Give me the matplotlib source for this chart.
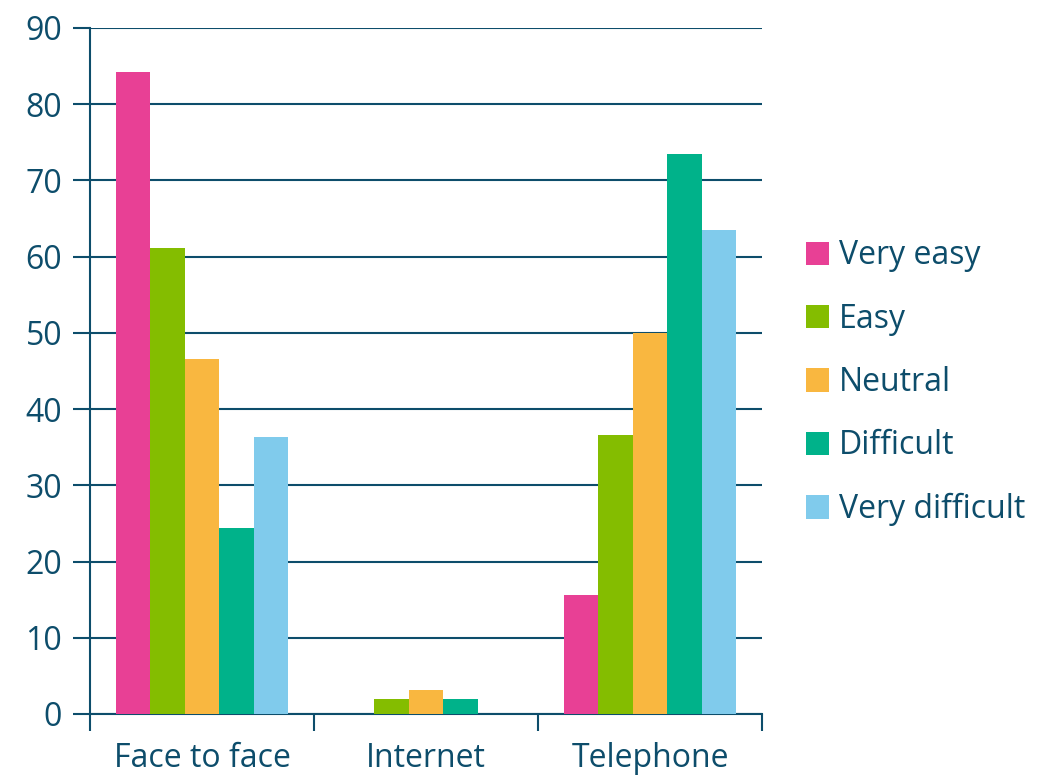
import matplotlib
matplotlib.use("Agg")
import matplotlib.pyplot as plt
import numpy as np

categories = ['Face to face', 'Internet', 'Telephone']
series = ['Very easy', 'Easy', 'Neutral', 'Difficult', 'Very difficult']
very_easy = [84.2, 0, 15.6]
easy = [61.1, 2.0, 36.6]
neutral = [46.6, 3.2, 50.0]
difficult = [24.4, 2.0, 73.5]
very_difficult = [36.3, 0, 63.5]
values = [very_easy, easy, neutral, difficult, very_difficult]
colors = ['#E84095', '#84BD00', '#F9B740', '#00B28A', '#80CBEC']
y_ticks = [0, 10, 20, 30, 40, 50, 60, 70, 80, 90]

text_col = '#0D4D6B'
plt.rcParams['font.family'] = ['Open Sans', 'DejaVu Sans']

fig = plt.figure(figsize=(10.39, 7.83), dpi=100)
ax = fig.add_axes([90 / 1039, 1 - 714 / 783, 672 / 1039, 686 / 783])

group_w = 0.77
bar_w = group_w / len(series)
centers = np.arange(len(categories)) + 0.5
for i, (name, vals) in enumerate(zip(series, values)):
    x = centers - group_w / 2 + bar_w * (i + 0.5)
    ax.bar(x, vals, width=bar_w, color=colors[i], label=name, zorder=3, linewidth=0)

ax.set_xlim(0, 3)
ax.set_ylim(0, 90)
ax.set_yticks(y_ticks)
ax.yaxis.grid(True, color=text_col, linewidth=1.5, zorder=1)
ax.set_xticks([0, 1, 2, 3])
ax.set_xticklabels([])
ax.set_xticks(centers, minor=True)
ax.set_xticklabels(categories, minor=True)
ax.tick_params(axis='x', which='major', length=12, width=1.5, color=text_col, direction='out')
ax.tick_params(axis='x', which='minor', length=0, pad=20, labelsize=23, labelcolor=text_col)
ax.tick_params(axis='y', length=12, width=1.5, color=text_col, labelsize=23, labelcolor=text_col, pad=8)

for s in ['top', 'right']:
    ax.spines[s].set_visible(False)
ax.spines['left'].set_color(text_col)
ax.spines['left'].set_linewidth(1.5)
ax.spines['bottom'].set_color(text_col)
ax.spines['bottom'].set_linewidth(1.5)

leg = ax.legend(loc='center left', bbox_to_anchor=(1.022, 0.483), frameon=False,
                fontsize=23, labelcolor=text_col, handlelength=0.75, handleheight=0.75,
                handletextpad=0.3, labelspacing=0.95)

fig.savefig('out.png', dpi=100)
